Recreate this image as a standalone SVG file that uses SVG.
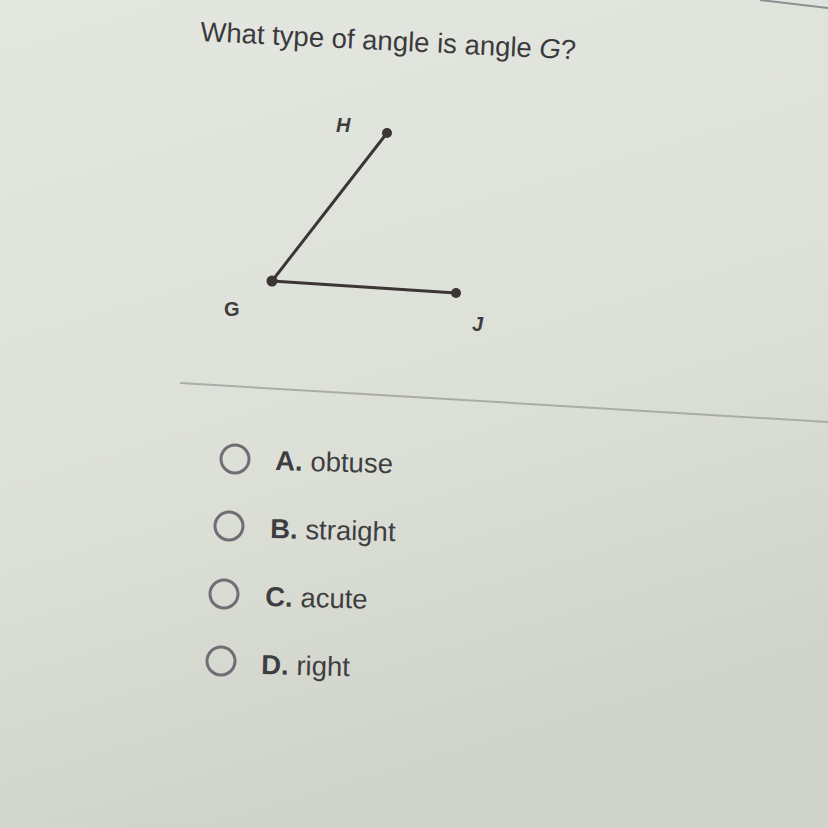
<svg xmlns="http://www.w3.org/2000/svg" width="828" height="828" viewBox="0 0 828 828">
<defs>
<linearGradient id="bg" x1="0" y1="0" x2="0.3" y2="1">
<stop offset="0" stop-color="#e4e7e0"/>
<stop offset="0.6" stop-color="#dde0d7"/>
<stop offset="1" stop-color="#cfd3c9"/>
</linearGradient>
<style>
.q{font-family:"Liberation Sans",Arial,sans-serif;fill:#3a3a3c}
.lbl{font-family:"Liberation Sans",Arial,sans-serif;fill:#3d3d3f;font-weight:bold;font-size:20px}
.opt{font-family:"Liberation Sans",Arial,sans-serif;fill:#3e3e42;font-size:27.5px}
.radio{fill:none;stroke:#6e6e74;stroke-width:3}
.seg{stroke:#3b3535;stroke-width:3;stroke-linecap:round}
.pt{fill:#3b3535}
</style>
</defs>
<rect width="828" height="828" fill="url(#bg)"/>
<line x1="760" y1="0" x2="828" y2="8" stroke="#8d8f92" stroke-width="2"/>
<text class="q" x="200" y="41" font-size="27.5" transform="rotate(2.8 200 41)">What type of angle is angle <tspan font-style="italic">G</tspan>?</text>
<g id="connectors">
<line class="seg" x1="272" y1="281" x2="387" y2="133"/>
<line class="seg" x1="272" y1="281" x2="456" y2="293"/>
</g>
<g id="H"><circle class="pt" cx="387" cy="133" r="5"/><text class="lbl" x="336" y="132" font-style="italic">H</text></g>
<g id="G"><circle class="pt" cx="272" cy="281" r="5.5"/><text class="lbl" x="224" y="316">G</text></g>
<g id="J"><circle class="pt" cx="456" cy="293" r="5"/><text class="lbl" x="472" y="331" font-style="italic">J</text></g>
<line x1="180" y1="383" x2="828" y2="422" stroke="#a9aca9" stroke-width="2"/>
<g id="optA"><circle class="radio" cx="235" cy="459" r="14"/><text class="opt" x="275" y="470" transform="rotate(1.5 275 470)"><tspan font-weight="bold">A.</tspan> obtuse</text></g>
<g id="optB"><circle class="radio" cx="229" cy="526" r="14"/><text class="opt" x="270" y="538" transform="rotate(1.5 270 538)"><tspan font-weight="bold">B.</tspan> straight</text></g>
<g id="optC"><circle class="radio" cx="224" cy="594" r="14"/><text class="opt" x="265" y="606" transform="rotate(1.5 265 606)"><tspan font-weight="bold">C.</tspan> acute</text></g>
<g id="optD"><circle class="radio" cx="221" cy="661" r="14"/><text class="opt" x="261" y="674" transform="rotate(1.5 261 674)"><tspan font-weight="bold">D.</tspan> right</text></g>
</svg>
